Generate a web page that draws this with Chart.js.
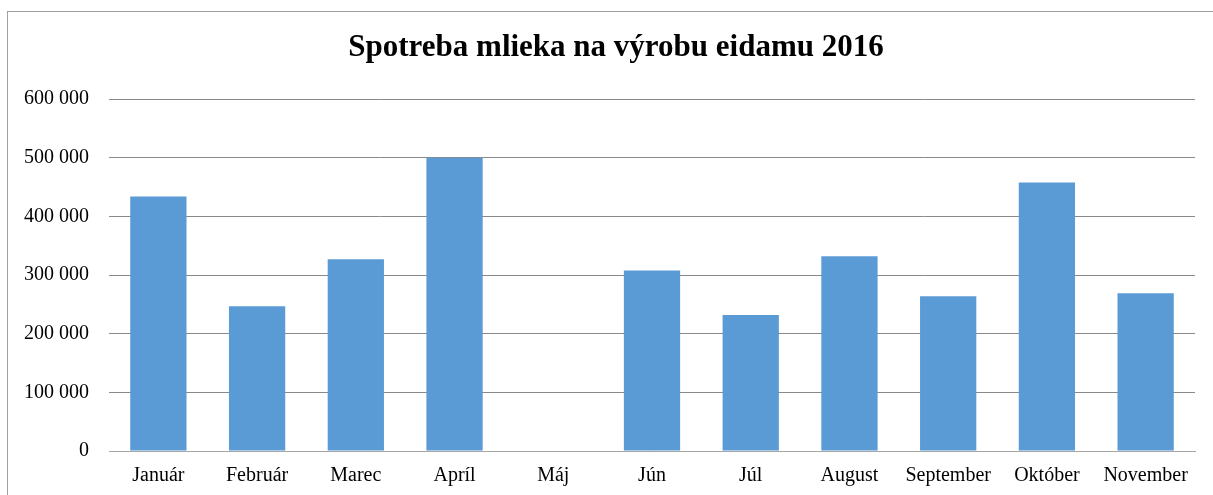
<!DOCTYPE html>
<html>
<head>
<meta charset="utf-8">
<script src="https://cdn.jsdelivr.net/npm/chart.js@4/dist/chart.umd.min.js"></script>
<style>
  html, body { margin: 0; padding: 0; background: #fff; }
  #wrap { width: 1213px; height: 495px; position: relative; }
</style>
</head>
<body>
<div id="wrap"><canvas id="chart"></canvas></div>
<script>
// chart data
const months = ['Január', 'Február', 'Marec', 'Apríl', 'Máj', 'Jún', 'Júl', 'August', 'September', 'Október', 'November'];
const milk = [434000, 247000, 327000, 500000, null, 308000, 232000, 332000, 264000, 458000, 269000];
const chartTitle = 'Spotreba mlieka na výrobu eidamu 2016';

const titleFont = { family: 'Liberation Serif', size: 31, weight: 'bold' };

// white background + thin gray frame like the original chart area
const frame = {
    id: 'frame',
    beforeDraw(chart) {
        const ctx = chart.ctx;
        ctx.save();
        ctx.fillStyle = '#ffffff';
        ctx.fillRect(0, 0, chart.width, chart.height);
        ctx.strokeStyle = '#a0a0a0';
        ctx.lineWidth = 1;
        ctx.strokeRect(7.5, 11.5, 1400, 700);
        ctx.restore();
    },
    // title is drawn here so it can sit a bit right of the canvas centre
    afterDraw(chart) {
        const tb = chart.titleBlock;
        const ctx = chart.ctx;
        ctx.save();
        ctx.fillStyle = '#000';
        ctx.font = 'bold 31px "Liberation Serif"';
        ctx.textAlign = 'center';
        ctx.textBaseline = 'middle';
        ctx.fillText(chartTitle, 616, tb.top + tb.options.padding.top + titleFont.size * 1.2 / 2);
        ctx.restore();
    }
};

function spaced(v) {
    return String(v).replace(/\B(?=(\d{3})+(?!\d))/g, ' ');
}

const ctx = document.getElementById('chart').getContext('2d');
new Chart(ctx, {
    type: 'bar',
    data: {
        labels: months,
        datasets: [{
            data: milk,
            backgroundColor: '#5B9BD5',
            borderWidth: 0,
            barPercentage: 0.57,
            categoryPercentage: 1
        }]
    },
    options: {
        responsive: true,
        maintainAspectRatio: false,
        animation: false,
        layout: { padding: { left: 4, right: 18, top: 0, bottom: 2 } },
        plugins: {
            legend: { display: false },
            tooltip: { enabled: false },
            title: {
                display: true,
                text: chartTitle,
                color: 'rgba(0,0,0,0)',
                font: titleFont,
                padding: { top: 29, bottom: 33 }
            }
        },
        scales: {
            x: {
                grid: { display: false },
                border: { display: true, color: '#a6a6a6', width: 1 },
                ticks: {
                    color: '#000',
                    font: { family: 'Liberation Serif', size: 20 },
                    padding: 5,
                    maxRotation: 0,
                    autoSkip: false
                }
            },
            y: {
                min: 0,
                max: 600000,
                border: { display: false },
                grid: { color: '#898989', drawTicks: false },
                ticks: {
                    stepSize: 100000,
                    color: '#000',
                    font: { family: 'Liberation Serif', size: 20 },
                    padding: 20,
                    callback: v => spaced(v)
                }
            }
        }
    },
    plugins: [frame]
});
</script>
</body>
</html>
